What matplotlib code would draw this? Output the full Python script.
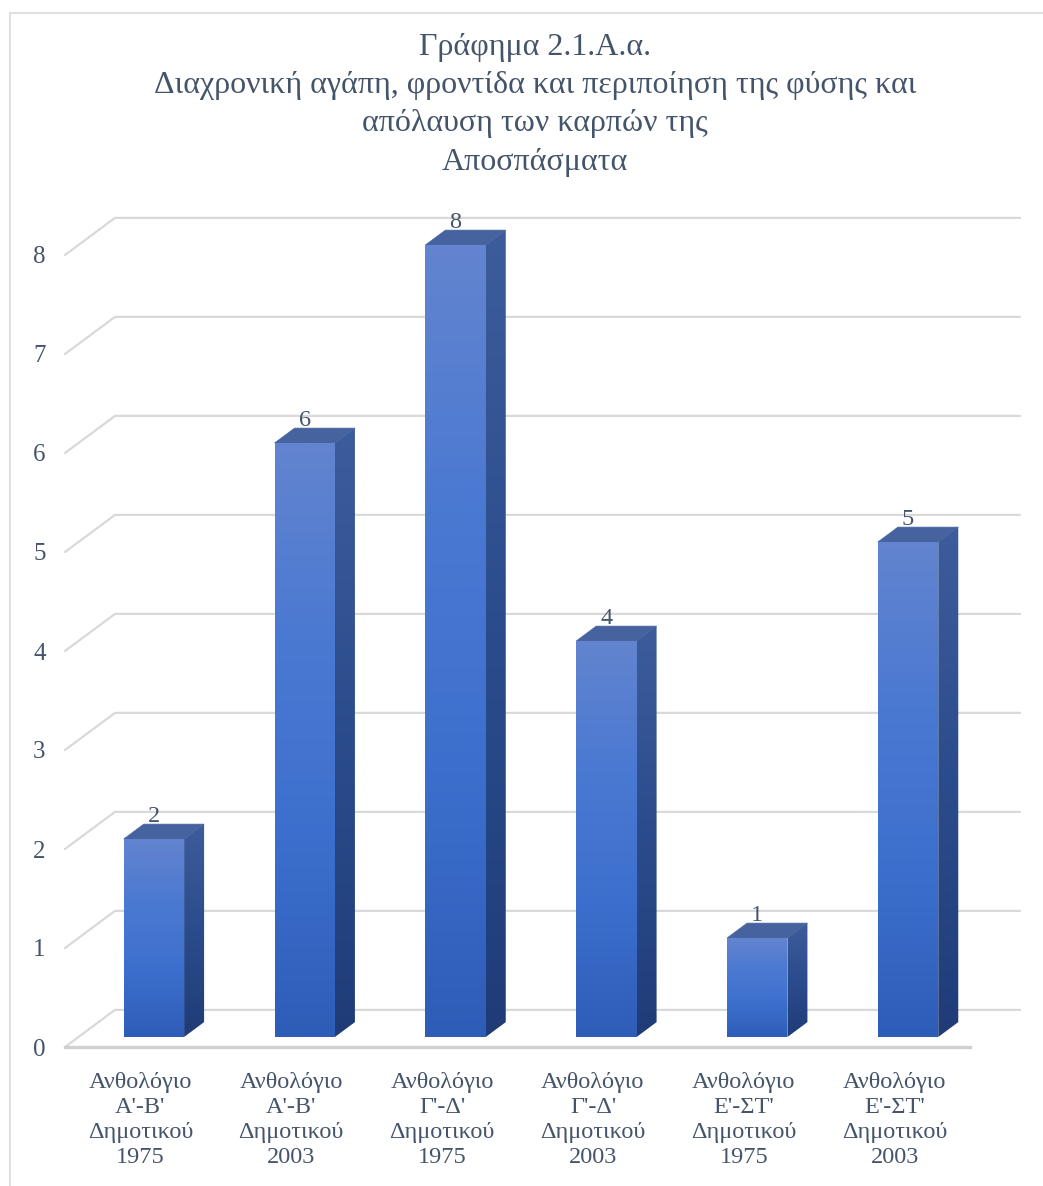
import numpy as np
import matplotlib
matplotlib.use("Agg")
import matplotlib.pyplot as plt
from matplotlib.patches import Polygon
from matplotlib.lines import Line2D
from matplotlib.colors import LinearSegmentedColormap

categories = [
    "Ανθολόγιο\nΑ'-Β'\nΔημοτικού\n1975",
    "Ανθολόγιο\nΑ'-Β'\nΔημοτικού\n2003",
    "Ανθολόγιο\nΓ'-Δ'\nΔημοτικού\n1975",
    "Ανθολόγιο\nΓ'-Δ'\nΔημοτικού\n2003",
    "Ανθολόγιο\nΕ'-ΣΤ'\nΔημοτικού\n1975",
    "Ανθολόγιο\nΕ'-ΣΤ'\nΔημοτικού\n2003",
]
values = [2, 6, 8, 4, 1, 5]
y_ticks = list(range(0, 9))
title = ("Γράφημα 2.1.Α.α.\n"
         "Διαχρονική αγάπη, φροντίδα και περιποίηση της φύσης και\n"
         "απόλαυση των καρπών της\n"
         "Αποσπάσματα")

plt.rcParams['font.family'] = ['Liberation Serif', 'DejaVu Serif']
text_col = '#44546A'
grid_col = '#D9D9D9'

W, H = 1043, 1186
YMAX = 8.6
fig = plt.figure(figsize=(W / 100, H / 100), dpi=100)
ax = fig.add_axes([65 / W, (H - 1047) / H, 905 / W, 99 * YMAX / H])
ax.set_xlim(0, 6)
ax.set_ylim(0, YMAX)

# depth of the 3d box, in data units
DX = 50 / 150.8
DY = 0.375

# walls: back gridlines and the slanted side lines
for v in y_ticks:
    ax.plot([0, DX, 6 + DX], [v, v + DY, v + DY], color=grid_col,
            lw=1.6, clip_on=False, zorder=1, solid_capstyle='round')
ax.plot([0, 6], [0, 0], color='#D0D0D0', lw=2.4, clip_on=False, zorder=1)

front_cmap = LinearSegmentedColormap.from_list(
    'front', ['#6384CF', '#4A79D2', '#3C6FCD', '#2E5DB8'])
side_cmap = LinearSegmentedColormap.from_list(
    'side', ['#3D5C9C', '#2B4C8C', '#1F3C78'])
grad = np.linspace(0, 1, 256).reshape(-1, 1)

d0, d1 = 0.27, 0.67
bw = 0.4
for i, v in enumerate(values):
    x0 = i + 0.5 - bw / 2 + d0 * DX
    x1 = x0 + bw
    y0 = d0 * DY
    y1 = v + y0
    ex, ey = (d1 - d0) * DX, (d1 - d0) * DY

    front = Polygon([(x0, y0), (x1, y0), (x1, y1), (x0, y1)], closed=True,
                    fc='none', ec='none')
    side = Polygon([(x1, y0), (x1 + ex, y0 + ey), (x1 + ex, y1 + ey), (x1, y1)],
                   closed=True, fc='none', ec='none')
    top = Polygon([(x0, y1), (x1, y1), (x1 + ex, y1 + ey), (x0 + ex, y1 + ey)],
                  closed=True, fc='#47639F', ec='#47639F', lw=0.5, zorder=3)
    ax.add_patch(front)
    ax.add_patch(side)
    ax.add_patch(top)

    # origin='upper': first row of grad (light) ends up at the top
    im = ax.imshow(grad, cmap=front_cmap, extent=(x0, x1, y0, y1),
                   aspect='auto', zorder=3, interpolation='bilinear')
    im.set_clip_path(front)
    im2 = ax.imshow(grad, cmap=side_cmap, extent=(x1, x1 + ex, y0, y1 + ey),
                    aspect='auto', zorder=3, interpolation='bilinear')
    im2.set_clip_path(side)

    ax.text(i + 0.5 + d0 * DX, y1 + ey - 0.03, str(v), ha='center', va='bottom',
            fontsize=17.5, color=text_col, zorder=4)

ax.set_xlim(0, 6)
ax.set_ylim(0, YMAX)

ax.set_yticks(y_ticks)
ax.set_yticklabels([str(t) for t in y_ticks])
ax.set_xticks([i + 0.5 for i in range(len(categories))])
ax.set_xticklabels(categories)
ax.tick_params(axis='y', length=0, pad=14, labelsize=18, labelcolor=text_col)
ax.tick_params(axis='x', length=0, pad=18, labelsize=17.5, labelcolor=text_col)
for lbl in ax.get_xticklabels():
    lbl.set_linespacing(1.25)
for s in ax.spines.values():
    s.set_visible(False)
ax.patch.set_alpha(0)

fig.text(535 / W, 1 - 33 / H, title, ha='center', va='top', fontsize=23,
         color=text_col, linespacing=1.42)

# outer frame (top and left edges)
fig.add_artist(Line2D([10 / W, 10 / W, 1], [0, 1 - 13 / H, 1 - 13 / H],
                      color='#DDE1E6', lw=1.5, transform=fig.transFigure))

fig.savefig('out.png', dpi=100)
